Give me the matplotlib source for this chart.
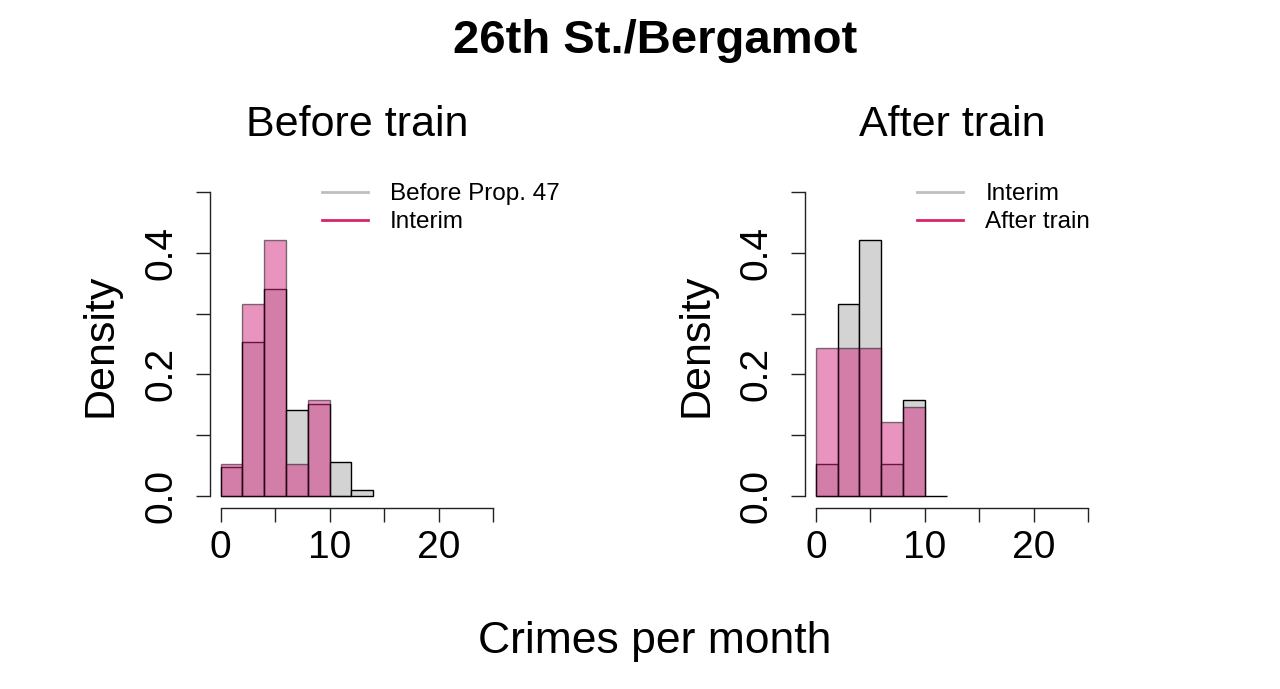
import matplotlib.pyplot as plt
import numpy as np

plt.rcParams['font.family'] = ['Liberation Sans', 'DejaVu Sans']

# bin edges (crimes per month), width 2
bins_long = [0, 2, 4, 6, 8, 10, 12, 14]
bins_mid = [0, 2, 4, 6, 8, 10, 12]
bins_short = [0, 2, 4, 6, 8, 10]

# densities
before_prop47 = [0.047, 0.254, 0.340, 0.141, 0.151, 0.056, 0.009]
interim = [0.053, 0.316, 0.421, 0.053, 0.158, 0.0]
after_train = [0.244, 0.244, 0.244, 0.122, 0.146]

panel_titles = ['Before train', 'After train']
legend_labels = [['Before Prop. 47', 'Interim'], ['Interim', 'After train']]

x_ticks = [0, 5, 10, 15, 20, 25]
x_labels = ['0', '', '10', '', '20', '']
y_ticks = [0, 0.1, 0.2, 0.3, 0.4, 0.5]
y_labels = ['0.0', '', '0.2', '', '0.4', '']

gray_fill = '#d3d3d3'
gray_line = '#bebebe'
pink = '#d22b7e'
pink_line = '#d8246f'


def draw_hist(ax, edges, heights, color, alpha):
    edges = np.array(edges)
    ax.bar(edges[:-1], heights, width=np.diff(edges), align='edge',
           color=color, alpha=alpha, edgecolor='black', linewidth=1.0)


def style_axes(ax, title, labels):
    ax.set_xlim(-1, 26)
    ax.set_ylim(-0.02, 0.52)
    for s in ['top', 'right']:
        ax.spines[s].set_visible(False)
    ax.spines['left'].set_bounds(0, 0.5)
    ax.spines['bottom'].set_bounds(0, 25)
    for s in ['left', 'bottom']:
        ax.spines[s].set_linewidth(1.0)
        ax.spines[s].set_color('#222222')
    ax.set_xticks(x_ticks)
    ax.set_xticklabels(x_labels, fontsize=28)
    ax.set_yticks(y_ticks)
    ax.set_yticklabels(y_labels, fontsize=28, rotation=90, va='center')
    ax.tick_params(axis='both', length=10, width=1.0, color='#222222')
    ax.tick_params(axis='x', pad=6)
    ax.tick_params(axis='y', pad=12)
    ax.set_title(title, fontsize=31, pad=32)
    h1, = ax.plot([], [], color=gray_line, lw=2)
    h2, = ax.plot([], [], color=pink_line, lw=2)
    ax.legend([h1, h2], labels, loc='upper left', bbox_to_anchor=(0.38, 0.99),
              frameon=False, fontsize=17.5, handlelength=1.92, handletextpad=0.9,
              labelspacing=0.25, borderaxespad=0, borderpad=0)


fig = plt.figure(figsize=(12.8, 6.89), dpi=100)
ax1 = fig.add_axes([0.1639, 0.2627, 0.2299, 0.4761])
ax2 = fig.add_axes([0.6289, 0.2627, 0.2299, 0.4761])

draw_hist(ax1, bins_long, before_prop47, gray_fill, 1.0)
draw_hist(ax1, bins_mid, interim, pink, 0.5)
style_axes(ax1, panel_titles[0], legend_labels[0])

draw_hist(ax2, bins_mid, interim, gray_fill, 1.0)
draw_hist(ax2, bins_short, after_train, pink, 0.5)
style_axes(ax2, panel_titles[1], legend_labels[1])

fig.text(100 / 1280, 1 - 345 / 689, 'Density', rotation=90, fontsize=31,
         ha='center', va='center')
fig.text(696 / 1280, 1 - 345 / 689, 'Density', rotation=90, fontsize=31,
         ha='center', va='center')

fig.text(655 / 1280, 1 - 641 / 689, 'Crimes per month', fontsize=32,
         ha='center', va='center')
fig.text(655 / 1280, 1 - 41 / 689, '26th St./Bergamot', fontsize=34,
         fontweight='bold', ha='center', va='center')

fig.savefig('out.png', dpi=100)
